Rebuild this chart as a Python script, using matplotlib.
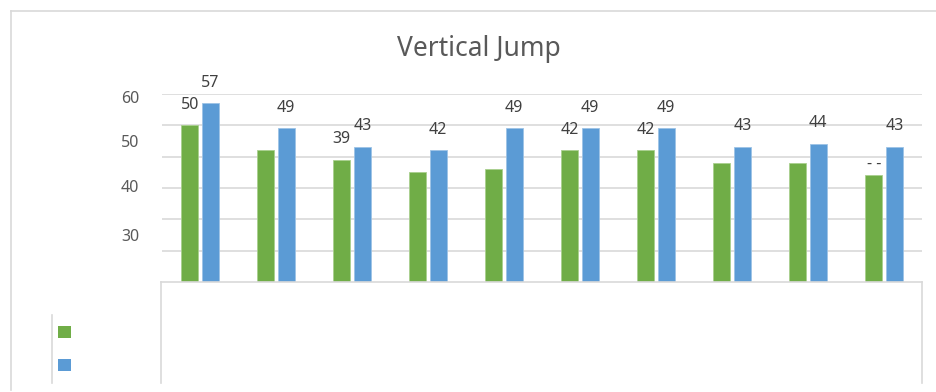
import matplotlib.pyplot as plt
from matplotlib.lines import Line2D
from matplotlib.patches import Rectangle
import numpy as np

plt.rcParams['font.family'] = ['Noto Sans', 'DejaVu Sans']

# values
green_vals = [50, 42, 39, 35, 36, 42, 42, 38, 38, 34]
blue_vals = [57, 49, 43, 42, 49, 49, 49, 43, 44, 43]
green_labels = ["50", None, "39", None, None, "42", "42", None, None, "- -"]
blue_labels = ["57", "49", "43", "42", "49", "49", "49", "43", "44", "43"]
ytick_text = ["60", "50", "40", "30"]
ytick_pos = [58.5, 44.4, 30.0, 14.4]  # where the labels sit (they don't line up with the grid)

green = "#70AD47"
blue = "#5B9BD5"
grid_c = "#D9D9D9"

W, H = 937, 392
fig = plt.figure(figsize=(W / 100, H / 100), dpi=100)

ax = fig.add_axes([162 / W, (H - 282) / H, (922 - 162) / W, (282 - 94) / H])
x = np.arange(len(green_vals))
bw = 0.22
off = 0.135
gb = ax.bar(x - off, green_vals, bw, color=green, edgecolor="#A9D08E", linewidth=0.6, zorder=3)
bb = ax.bar(x + off, blue_vals, bw, color=blue, edgecolor="#9DC3E6", linewidth=0.6, zorder=3)

for rect, lab in zip(gb, green_labels):
    if lab is None:
        continue
    dy = 8 if lab == "- -" else 15
    ax.annotate(lab, (rect.get_x() + rect.get_width() / 2, rect.get_height()),
                xytext=(0, dy), textcoords="offset points", ha="center", va="center",
                fontsize=11.5, color="#404040", annotation_clip=False)
for rect, lab in zip(bb, blue_labels):
    ax.annotate(lab, (rect.get_x() + rect.get_width() / 2, rect.get_height()),
                xytext=(0, 15), textcoords="offset points", ha="center", va="center",
                fontsize=11.5, color="#404040", annotation_clip=False)

ax.set_xlim(-0.5, len(green_vals) - 0.5)
ax.set_ylim(0, 60)
ax.set_yticks(range(10, 61, 10))
ax.yaxis.grid(True, color=grid_c, linewidth=1.2, zorder=0)
ax.tick_params(left=False, bottom=False, labelleft=False, labelbottom=False)
for s in ax.spines.values():
    s.set_visible(False)

# y labels, offset from the grid like in the original
lab_tr = ax.get_yaxis_transform() + plt.matplotlib.transforms.ScaledTranslation(0, 0, fig.dpi_scale_trans)
for t, p in zip(ytick_text, ytick_pos):
    ax.text(-23 / (922 - 162), p, t, transform=ax.get_yaxis_transform(), ha="right", va="center",
            fontsize=11.5, color="#595959", clip_on=False)

fig.text(479 / W, (H - 49) / H, "Vertical Jump", ha="center", va="center",
         fontsize=19, color="#595959")


def fline(x0, y0, x1, y1, c=grid_c, lw=1.2):
    fig.add_artist(Line2D([x0 / W, x1 / W], [(H - y0) / H, (H - y1) / H],
                          color=c, linewidth=lw, transform=fig.transFigure))


# outer chart border (top and left)
fline(11, 11, W, 11)
fline(11, 11, 11, 390)
# data-table frame under the plot
fline(161, 282, 922, 282)
fline(161, 282, 161, 383)
fline(922, 282, 922, 383)
fline(52, 315, 52, 383)

# legend keys
for y0, c in [(326, green), (359, blue)]:
    fig.add_artist(Rectangle((58 / W, (H - y0 - 12) / H), 13 / W, 12 / H,
                             facecolor=c, edgecolor="none", transform=fig.transFigure))

fig.savefig("out.png", dpi=100)
